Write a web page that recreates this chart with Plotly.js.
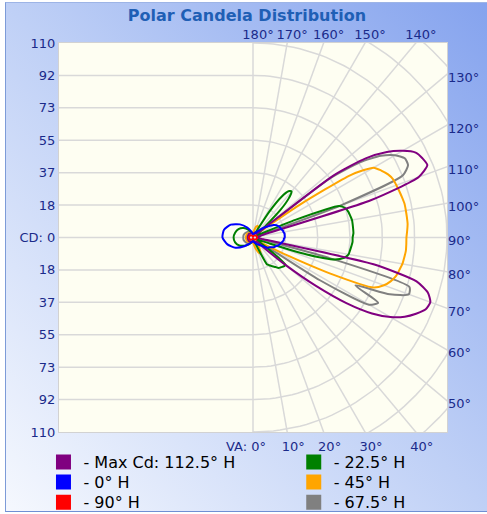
<!DOCTYPE html>
<html><head><meta charset="utf-8">
<script src="https://cdn.plot.ly/plotly-3.0.1.min.js"></script>
<style>
html,body{margin:0;padding:0;background:#fff;}
#frame{position:absolute;left:5px;top:2px;width:482px;height:508px;border-left:1px solid #7d9bd8;border-top:1px solid #9db4e6;border-bottom:1px solid #6f8fd4;background:linear-gradient(to top right,#f5f8fe 0%,#bfd0f6 50%,#85a3ee 100%);}
#chart{position:absolute;left:0;top:0;width:487px;height:514px;}
</style></head><body><div id="frame"></div><div id="chart"></div>
<script>
const R = 110;
// vertical angles (degrees) used for the measured planes
const VA_FINE = [0,2.5,5,7.5,10,12.5,15,17.5,20,22.5,25,27.5,30,32.5,35,37.5,40,42.5,45,47.5,50,52.5,55,57.5,60,62.5,65,67.5,70,72.5,75,77.5,80,82.5,85,87.5,90,92.5,95,97.5,100,102.5,105,107.5,110,112.5,115,117.5,120,122.5,125,127.5,130,132.5,135,137.5,140,142.5,145,147.5,150,152.5,155,157.5,160,162.5,165,167.5,170,172.5,175,177.5,180];
const VA_COARSE = [0,15,30,45,60,75,90,105,120,135,150,165,180];

// Max Cd: 112.5° H (right) / 292.5° H (left)
const cdMaxRight = [2,2,2,2,2.5,2.5,3,3, 3,3,3,3,3,3,3,3,3,3.5,4, 10,25,45,65,80,90,97,102,106,107,104,96,70,6, 4,3,3,3,3,3,3,3,4, 6,70,100,107,106,104,98,90,78,58,8, 4,3,3,3,3,3,3,3,3,3,3,3,2.5,2.5,2,2,2,2,2,2];
const cdMaxLeft = [2,2.5,2.5,3,3,3,3,3,3,3,2.5,2.5,2];
// 0° H / 180° H
const cd0Right = [2,2,2,2,2.5,2.5,2.5,3, 3,3.5,3.5,4,4,4.5,5,5,5.5,6,6.5,7,8,9,10,10.5, 11,12,13,13.5,14,15,15.5,16,16.5,17,17.5,17.5,18,18,18,18, 17.5,17.5,17,16.5,16.5,16,15.5,15,14,13,11.5,10,9,8,7,6, 5,4.5,4,3.5,3,3,2.5,2.5,2.5,2,2,2,2,2,2,2,2];
const cd0Left = [2,2.5,4,7,11.5,15,17.3,17,14.5,10.5,6.5,3.5,2];
// 90° H / 270° H
const cd90Right = [0.5,0.8,1.2,1.6,2,2.2,2.3,2.2,2,1.6,1.2,0.8,0.5];
const cd90Left = [0.5,0.8,1.2,1.6,2,2.2,2.3,2.2,2,1.6,1.2,0.8,0.5];
// 22.5° H / 202.5° H
const cd225Right = [2,2,2,2,2,2,2.5,2.5, 3,4,8,17,18,19,20,21,22.5,23,23.5,24,24,15,4,3,3,3,3,4,10,32,48,53,55, 55.5,56,56.5,56.5,57,57,57,57,56.5,56,55,52,26,5,3,3,3,3,3,4, 10,22,30,34,33,28,18,6,3,2.5,2,2,2,2,2,2,2,2,2,2];
const cd225Left = [2,3,4.5,6.5,9,10.5,11,10.5,9.5,7.5,5,3,2];
// 45° H / 225° H
const cd45Right = [3,3,3.5,4,5,6,7,8, 9,9.5,10,9,7.5,6,5,4,3.5,3,3,3,3,3,4,6, 10,22,48,74,79,82,84,85,86,86.5,87,87,87,87.5,88,88,88,88,87.5,87,86.5,86,84.5,82,79,66,32,10,5, 4,4,4,4,4.5,5,5.5,6,6.5,7,7,7,6.5,6,5,4.5,4,3.5,3,3];
const cd45Left = [2,2.5,3,3.5,4,4,4,4,4,3.5,3,2.5,2];
// 67.5° H / 247.5° H
const cd675Right = [2,2,2,2,2.5,2.5,3,3, 3,3,3,3,3,3,3,3,3,3,3,3,3,3.5, 4,45,76,80,64,84,94,93,45,5, 4,3,3,3,3,3,3,3,3,3,4, 5,52,92,97,97,93,86,74,55,5, 3.5,3,3,3,3,3,3,3,3,3,3,3,2.5,2.5,2,2,2,2,2,2];
const cd675Left = [2,2.5,3.5,4.5,5,5.5,5.5,5.5,5,4.5,3.5,2.5,2];

const legendNames = ['- Max Cd: 112.5° H','- 0° H','- 90° H','- 22.5° H','- 45° H','- 67.5° H'];
const colors = ['#800080','#0000ff','#ff0000','#008000','#ffa500','#808080'];

// axis label values
const cdTickVals = [110,91.67,73.33,55,36.67,18.33,0,-18.33,-36.67,-55,-73.33,-91.67,-110];
const cdTickText = ['110','92','73','55','37','18','CD: 0','18','37','55','73','92','110'];
const bottomVA = [10,20,30,40];
const bottomText = ['10°','20°','30°','40°'];
const vaZeroText = 'VA: 0°';
const topVA = [180,170,160,150,140];
const topText = ['180°','170°','160°','150°','140°'];
const rightVA = [130,120,110,100,90,80,70,60,50];
const rightText = ['130°','120°','110°','100°','90°','80°','70°','60°','50°'];

const d2r = Math.PI/180;
function curve(vaR, cdR, vaL, cdL){
  const x=[], y=[];
  for(let i=0;i<vaR.length;i++){const t=vaR[i]*d2r; x.push(cdR[i]*Math.sin(t)); y.push(-cdR[i]*Math.cos(t));}
  for(let i=vaL.length-1;i>=0;i--){const t=vaL[i]*d2r; x.push(-cdL[i]*Math.sin(t)); y.push(-cdL[i]*Math.cos(t));}
  x.push(x[0]); y.push(y[0]);
  return {x,y};
}

// grid (polar on the right half, horizontal lines on the left half)
const gx=[], gy=[];
const step = R/6;
for(let k=1;k<=8;k++){
  for(let a=0;a<=180;a+=2){gx.push(k*step*Math.sin(a*d2r)); gy.push(-k*step*Math.cos(a*d2r));}
  gx.push(null); gy.push(null);
}
for(let a=0;a<=180;a+=10){gx.push(0, 170*Math.sin(a*d2r), null); gy.push(0, -170*Math.cos(a*d2r), null);}
for(let k=-5;k<=5;k++){gx.push(-R,0,null); gy.push(k*step,k*step,null);}

const traces = [{x:gx,y:gy,mode:'lines',line:{color:'#d9d9d9',width:1.5},hoverinfo:'skip',showlegend:false}];

const data = [
  {i:5, c:curve(VA_FINE,cd675Right,VA_COARSE,cd675Left)},
  {i:4, c:curve(VA_FINE,cd45Right,VA_COARSE,cd45Left)},
  {i:3, c:curve(VA_FINE,cd225Right,VA_COARSE,cd225Left)},
  {i:0, c:curve(VA_FINE,cdMaxRight,VA_COARSE,cdMaxLeft)},
  {i:1, c:curve(VA_FINE,cd0Right,VA_COARSE,cd0Left)},
  {i:2, c:curve(VA_COARSE,cd90Right,VA_COARSE,cd90Left)}
];
data.forEach(d=>{
  traces.push({x:d.c.x,y:d.c.y,mode:'lines',name:legendNames[d.i],line:{color:colors[d.i],width:2,shape:'spline',smoothing:0.6},showlegend:false,hoverinfo:'name'});
});
// legend entries (square swatches), one small legend per entry
const legendIds = ['legend','legend2','legend3','legend4','legend5','legend6'];
legendNames.forEach((n,i)=>{
  traces.push({x:[null],y:[null],xaxis:'x2',yaxis:'y2',mode:'markers',name:n,marker:{symbol:'square',size:15,color:colors[i],line:{width:0}},showlegend:true,legend:legendIds[i]});
});

const tickFont = {family:'DejaVu Sans',size:13,color:'#1a2a8a'};
const legFont = {family:'DejaVu Sans',size:16,color:'#000'};
function leg(x,y){return {x:x,y:y,xanchor:'left',yanchor:'top',orientation:'v',bgcolor:'rgba(0,0,0,0)',font:legFont};}
const layout = {
  width:487,height:514,
  margin:{l:59,r:40,t:43,b:82,autoexpand:false},
  paper_bgcolor:'rgba(0,0,0,0)',
  plot_bgcolor:'#fefef2',
  title:{text:'Polar Candela Distribution',font:{family:'DejaVu Sans',size:16,weight:'bold',color:'#1f5fb5'},x:0.507,xanchor:'center',y:0.971,yanchor:'middle'},
  xaxis:{range:[-R,R],showgrid:false,zeroline:false,showline:true,mirror:true,linecolor:'#d2d2d2',linewidth:1,automargin:false,
    tickmode:'array',tickvals:bottomVA.map(a=>R*Math.tan(a*d2r)),ticktext:bottomText,ticks:'',tickangle:0,tickfont:tickFont,ticklabelshift:6,ticklabelstandoff:2},
  xaxis2:{range:[-R,R],overlaying:'x',side:'top',showgrid:false,zeroline:false,showline:false,automargin:false,
    tickmode:'array',tickvals:topVA.map(a=>-R*Math.tan(a*d2r)),ticktext:topText,ticks:'',tickangle:0,tickfont:tickFont,ticklabelshift:5},
  yaxis:{range:[-R,R],showgrid:false,zeroline:false,showline:true,mirror:true,linecolor:'#d2d2d2',linewidth:1,automargin:false,
    tickmode:'array',tickvals:cdTickVals,ticktext:cdTickText,ticks:'',tickfont:tickFont},
  yaxis2:{range:[-R,R],overlaying:'y',side:'right',showgrid:false,zeroline:false,showline:false,automargin:false,
    tickmode:'array',tickvals:rightVA.map(a=>-R/Math.tan(a*d2r)),ticktext:rightText,ticks:'',tickfont:tickFont,ticklabelshift:3},
  annotations:[{text:vaZeroText,xref:'x',x:0,yref:'paper',y:0,xanchor:'right',yanchor:'top',xshift:15,yshift:-5,showarrow:false,font:tickFont}],
  legend:leg(-0.04,-0.0335),
  legend2:leg(-0.04,-0.085),
  legend3:leg(-0.04,-0.137),
  legend4:leg(0.605,-0.0335),
  legend5:leg(0.605,-0.085),
  legend6:leg(0.605,-0.137),
  showlegend:true
};
Plotly.newPlot('chart',traces,layout,{displayModeBar:false,staticPlot:true});
</script></body></html>
